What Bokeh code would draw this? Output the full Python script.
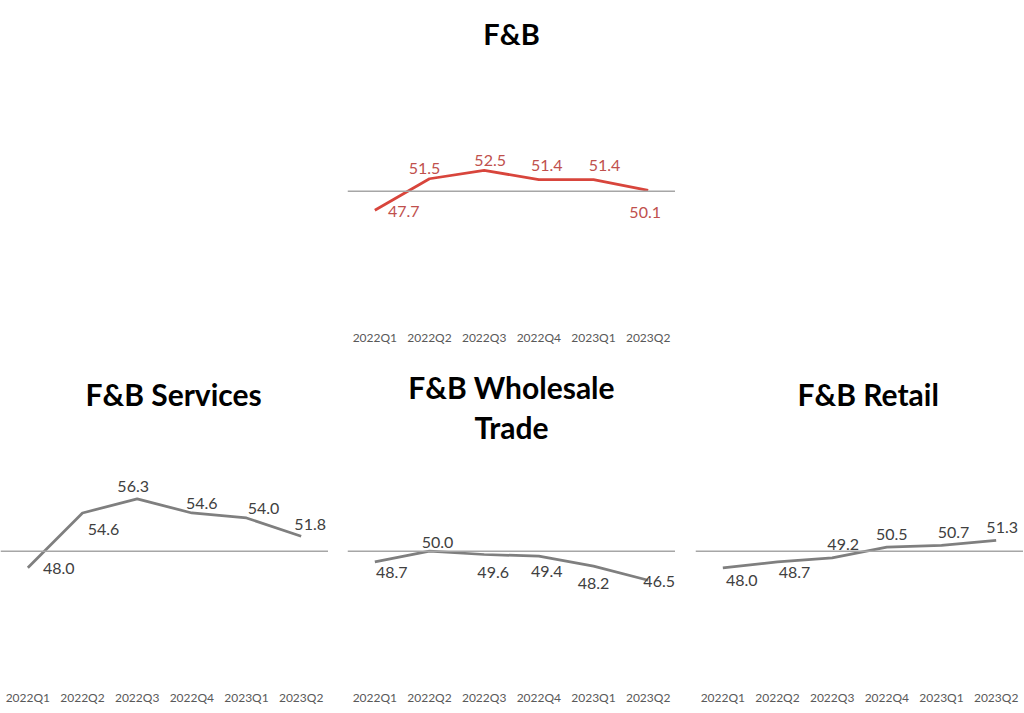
from bokeh.plotting import figure
from bokeh.models import Range1d, FactorRange, Span, Title
from bokeh.layouts import column, row
from bokeh.core.properties import value
from bokeh.embed import file_html
from bokeh.resources import INLINE

# ---- data ----
quarters = ["2022Q1", "2022Q2", "2022Q3", "2022Q4", "2023Q1", "2023Q2"]
fb = [47.7, 51.5, 52.5, 51.4, 51.4, 50.1]
fb_services = [48.0, 54.6, 56.3, 54.6, 54.0, 51.8]
fb_wholesale = [48.7, 50.0, 49.6, 49.4, 48.2, 46.5]
fb_retail = [48.0, 48.7, 49.2, 50.5, 50.7, 51.3]
threshold = 50

# ---- style ----
FONT = "Lato"
RED_LINE = "#D8453C"
RED_TEXT = "#C0504D"
GRAY_LINE = "#7F7F7F"
GRAY_TEXT = "#404040"
BASE_COLOR = "#A6A6A6"

# label offsets in screen pixels (dx, dy), dy positive = down
off_fb = [(29, 1), (-5, -10), (6, -10), (8, -14), (11, -14), (-3, 22)]
off_services = [(31, 1), (21, 17), (-4, -12), (10, -9), (17, -9), (9, -12)]
off_wholesale = [(17, 11), (8, -9), (9, 18), (8, 15), (0, 17), (11, 1)]
off_retail = [(19, 13), (17, 11), (11, -13), (5, -13), (12, -13), (6, -13)]


def make_panel(values, title_lines, line_color, text_color, offsets,
               width, min_left, height, top_border, bottom_border,
               y_lo, y_hi, title_align="center", title_offset=0,
               title_standoff=2, spacer_size="29px", title_size="30px",
               title_valign="bottom"):
    p = figure(width=width, height=height, output_backend="svg",
               toolbar_location=None, tools="",
               x_range=FactorRange(factors=quarters, range_padding=0),
               y_range=Range1d(y_lo, y_hi),
               min_border_left=min_left, min_border_right=0,
               min_border_top=top_border, min_border_bottom=bottom_border)
    p.outline_line_color = None
    p.xgrid.visible = False
    p.ygrid.visible = False
    p.yaxis.visible = False
    ax = p.xaxis[0]
    ax.axis_line_color = None
    ax.major_tick_line_color = None
    ax.minor_tick_line_color = None
    ax.major_tick_out = 0
    ax.major_tick_in = 0
    ax.major_label_standoff = 4
    ax.major_label_text_font = FONT
    ax.major_label_text_font_size = "12px"
    ax.major_label_text_color = "#595959"

    p.add_layout(Span(location=threshold, dimension="width",
                      line_color=BASE_COLOR, line_width=1.5))
    p.line(quarters, values, line_color=line_color, line_width=2.75)
    p.text(x=quarters, y=values, text=[f"{v:.1f}" for v in values],
           x_offset=[o[0] for o in offsets], y_offset=[o[1] for o in offsets],
           text_align="center", text_baseline="middle",
           text_font=value(FONT), text_font_size="16px", text_color=text_color)

    for i, t in enumerate(reversed(title_lines)):
        size = spacer_size if t.strip() == "" else title_size
        p.add_layout(Title(text=t, align=title_align, text_font=FONT,
                           text_font_size=size, text_font_style="bold",
                           text_color="#000000", offset=title_offset,
                           vertical_align=title_valign,
                           standoff=title_standoff if i == 0 else 2), "above")
    return p


p_top = make_panel(fb, ["F&B"], RED_LINE, RED_TEXT, off_fb,
                   width=675, min_left=347, height=355,
                   top_border=50, bottom_border=30, y_lo=33.82, y_hi=66.95,
                   title_standoff=0, title_size="29px")
p1 = make_panel(fb_services, ["F&B Services", " "], GRAY_LINE, GRAY_TEXT, off_services,
                width=328, min_left=0, height=358, top_border=90, bottom_border=28,
                y_lo=33.82, y_hi=62.73, title_align="left", title_offset=85,
                spacer_size="24px")
p2 = make_panel(fb_wholesale, ["F&B Wholesale", "Trade"], GRAY_LINE, GRAY_TEXT, off_wholesale,
                width=347, min_left=19, height=358, top_border=90, bottom_border=28,
                y_lo=33.82, y_hi=62.73)
p3 = make_panel(fb_retail, ["F&B Retail", " "], GRAY_LINE, GRAY_TEXT, off_retail,
                width=348, min_left=20, height=358, top_border=90, bottom_border=28,
                y_lo=33.82, y_hi=62.73, title_align="left", title_offset=102,
                spacer_size="24px")

layout = column(row(p_top), row(p1, p2, p3), spacing=0)
open("out.html", "w").write(file_html(layout, INLINE))
